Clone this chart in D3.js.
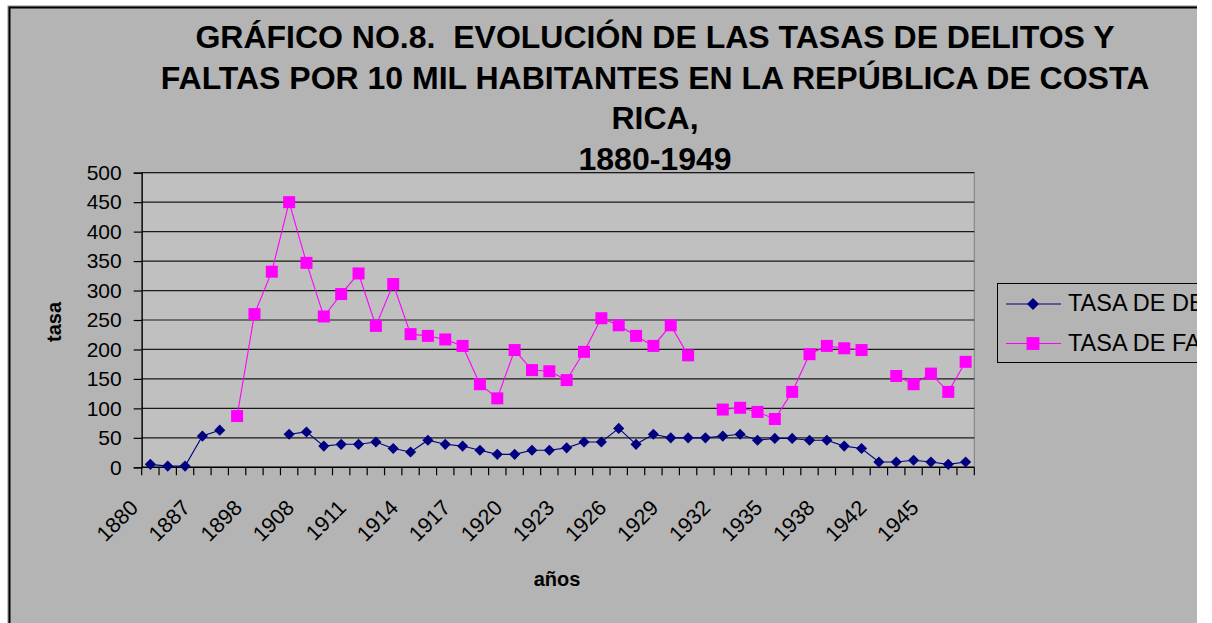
<!DOCTYPE html>
<html>
<head>
<meta charset="utf-8">
<script src="https://cdn.jsdelivr.net/npm/d3@7"></script>
<style>
    body { margin: 0; background: #fff; }
    text { font-family: "Liberation Sans", Arial, sans-serif; }
</style>
</head>
<body>
<div id="container"></div>
<script>
const years = ["1880", "1883", "1885", "1887", "1890", "1894", "1898", "1902", "1905", "1908",
    "1909", "1910", "1911", "1912", "1913", "1914", "1915", "1916", "1917", "1918",
    "1919", "1920", "1921", "1922", "1923", "1924", "1925", "1926", "1927", "1928",
    "1929", "1930", "1931", "1932", "1933", "1934", "1935", "1936", "1937", "1938",
    "1939", "1940", "1942", "1943", "1944", "1945", "1946", "1947"];

const delitos = [5, 2, 2, 53, 63, null, null, null, 56, 60,
    36, 39, 39, 43, 32, 26, 46, 39, 36, 29,
    22, 22, 29, 29, 33, 43, 43, 66, 39, 56,
    50, 50, 50, 53, 56, 46, 49, 49, 46, 46,
    36, 32, 9, 9, 12, 9, 5, 9];

const faltas = [null, null, null, null, null, 87, 260, 332, 450, 347,
    256, 294, 329, 240, 311, 226, 223, 217, 206, 141,
    117, 199, 165, 163, 148, 196, 253, 241, 223, 206,
    241, 190, null, 98, 101, 94, 82, 128, 192, 206,
    202, 199, null, 155, 141, 159, 128, 179];

const yTicks = [0, 50, 100, 150, 200, 250, 300, 350, 400, 450, 500];

const titleLines = [
    "GRÁFICO NO.8.  EVOLUCIÓN DE LAS TASAS DE DELITOS Y",
    "FALTAS POR 10 MIL HABITANTES EN LA REPÚBLICA DE COSTA",
    "RICA,",
    "1880-1949"
];

const seriesNames = ["TASA DE DELITOS", "TASA DE FALTAS"];

const W = 1212, H = 623;
const plot = {left: 141.7, right: 974.3, top: 172.7, bottom: 467.3};

const svg = d3.select("div#container")
    .append("svg")
    .attr("width", W)
    .attr("height", H);

svg.append("clipPath")
    .attr("id", "chartClip")
    .append("rect")
    .attr("x", 0).attr("y", 0)
    .attr("width", 1197).attr("height", H);

const g = svg.append("g").attr("clip-path", "url(#chartClip)");

// chart area with its frame (right edge is cut off in the original)
g.append("rect")
    .attr("x", 8).attr("y", 6)
    .attr("width", 1260).attr("height", 700)
    .attr("fill", "#b4b4b4")
    .attr("stroke", "#8a8a8a")
    .attr("stroke-width", 1);
g.append("rect")
    .attr("x", 9.5).attr("y", 7.5)
    .attr("width", 1260).attr("height", 700)
    .attr("fill", "none")
    .attr("stroke", "#000")
    .attr("stroke-width", 2);

const x = d3.scaleBand()
    .domain(years)
    .range([plot.left, plot.right])
    .padding(0);

const y = d3.scaleLinear()
    .domain([0, 500])
    .range([plot.bottom, plot.top]);

const cx = d => x(d) + x.bandwidth() / 2;

g.append("rect")
    .attr("x", plot.left).attr("y", plot.top)
    .attr("width", plot.right - plot.left)
    .attr("height", plot.bottom - plot.top)
    .attr("fill", "#c0c0c0")
    .attr("stroke", "#808080")
    .attr("stroke-width", 1);

g.selectAll("line.grid")
    .data(yTicks.slice(1))
    .enter()
    .append("line")
    .attr("class", "grid")
    .attr("x1", plot.left).attr("x2", plot.right)
    .attr("y1", d => y(d)).attr("y2", d => y(d))
    .attr("stroke", "#1a1a1a")
    .attr("stroke-width", 1.2);

// y axis
const yAxis = d3.axisLeft(y)
    .tickValues(yTicks)
    .tickSize(8)
    .tickPadding(12);

g.append("g")
    .attr("transform", `translate(${plot.left},0)`)
    .call(yAxis)
    .call(a => a.select(".domain").attr("stroke", "#000").attr("stroke-width", 1.3))
    .call(a => a.selectAll(".tick line").attr("stroke", "#000").attr("stroke-width", 1.2))
    .call(a => a.selectAll(".tick text")
        .attr("fill", "#000")
        .style("font-size", "21px")
        .style("font-family", "Liberation Sans, Arial, sans-serif"));

// x axis: ticks at category boundaries, labels every 3rd category
const boundaries = years.map(d => x(d)).concat([plot.right]);

g.append("line")
    .attr("x1", plot.left).attr("x2", plot.right)
    .attr("y1", plot.bottom).attr("y2", plot.bottom)
    .attr("stroke", "#000")
    .attr("stroke-width", 1.5);

g.selectAll("line.xtick")
    .data(boundaries)
    .enter()
    .append("line")
    .attr("class", "xtick")
    .attr("x1", d => d).attr("x2", d => d)
    .attr("y1", plot.bottom).attr("y2", plot.bottom + 8)
    .attr("stroke", "#000")
    .attr("stroke-width", 1.2);

g.selectAll("text.xlab")
    .data(years.filter((d, i) => i % 3 === 0))
    .enter()
    .append("text")
    .attr("class", "xlab")
    .attr("transform", d => `translate(${cx(d) - 11},509) rotate(-45)`)
    .attr("text-anchor", "end")
    .style("font-size", "21.5px")
    .text(d => d);

// axis titles
g.append("text")
    .attr("x", 557).attr("y", 586)
    .attr("text-anchor", "middle")
    .style("font-size", "20px")
    .style("font-weight", "bold")
    .text("años");

g.append("text")
    .attr("transform", "translate(61,322) rotate(-90)")
    .attr("text-anchor", "middle")
    .style("font-size", "20px")
    .style("font-weight", "bold")
    .text("tasa");

// series (diamond = square turned 45 degrees)
const lineGenerator = d3.line()
    .defined(d => d[1] != null)
    .x(d => cx(d[0]))
    .y(d => y(d[1]));

const series = [
    {name: seriesNames[0], values: delitos, color: "#000080", size: 62, rot: 45},
    {name: seriesNames[1], values: faltas, color: "#ff00ff", size: 144, rot: 0}
];

series.forEach(s => {
    const pts = years.map((yr, i) => [yr, s.values[i]]);
    g.append("path")
        .datum(pts)
        .attr("d", lineGenerator)
        .attr("fill", "none")
        .attr("stroke", s.color)
        .attr("stroke-width", 1.1);
    g.selectAll(null)
        .data(pts.filter(p => p[1] != null))
        .enter()
        .append("path")
        .attr("d", d3.symbol().type(d3.symbolSquare).size(s.size))
        .attr("transform", d => `translate(${cx(d[0])},${y(d[1])}) rotate(${s.rot})`)
        .attr("fill", s.color);
});

// title
g.selectAll("text.title")
    .data(titleLines)
    .enter()
    .append("text")
    .attr("class", "title")
    .attr("x", 655)
    .attr("y", (d, i) => 48 + i * 40.5)
    .attr("text-anchor", "middle")
    .style("font-size", "32px")
    .style("font-weight", "bold")
    .style("white-space", "pre")
    .text(d => d);

// legend (cut off at the right edge, as in the original)
const legend = g.append("g");
legend.append("rect")
    .attr("x", 997.5).attr("y", 283.5)
    .attr("width", 300).attr("height", 79)
    .attr("fill", "none")
    .attr("stroke", "#000")
    .attr("stroke-width", 1);

series.forEach((s, i) => {
    const ly = 304 + i * 39.5;
    legend.append("line")
        .attr("x1", 1006).attr("x2", 1061)
        .attr("y1", ly).attr("y2", ly)
        .attr("stroke", s.color)
        .attr("stroke-width", 1.1);
    legend.append("path")
        .attr("d", d3.symbol().type(d3.symbolSquare).size(s.size * 1.15))
        .attr("transform", `translate(1033,${ly}) rotate(${s.rot})`)
        .attr("fill", s.color);
    legend.append("text")
        .attr("x", 1068).attr("y", ly + 7)
        .style("font-size", "23.5px")
        .text(s.name);
});
</script>
</body>
</html>
